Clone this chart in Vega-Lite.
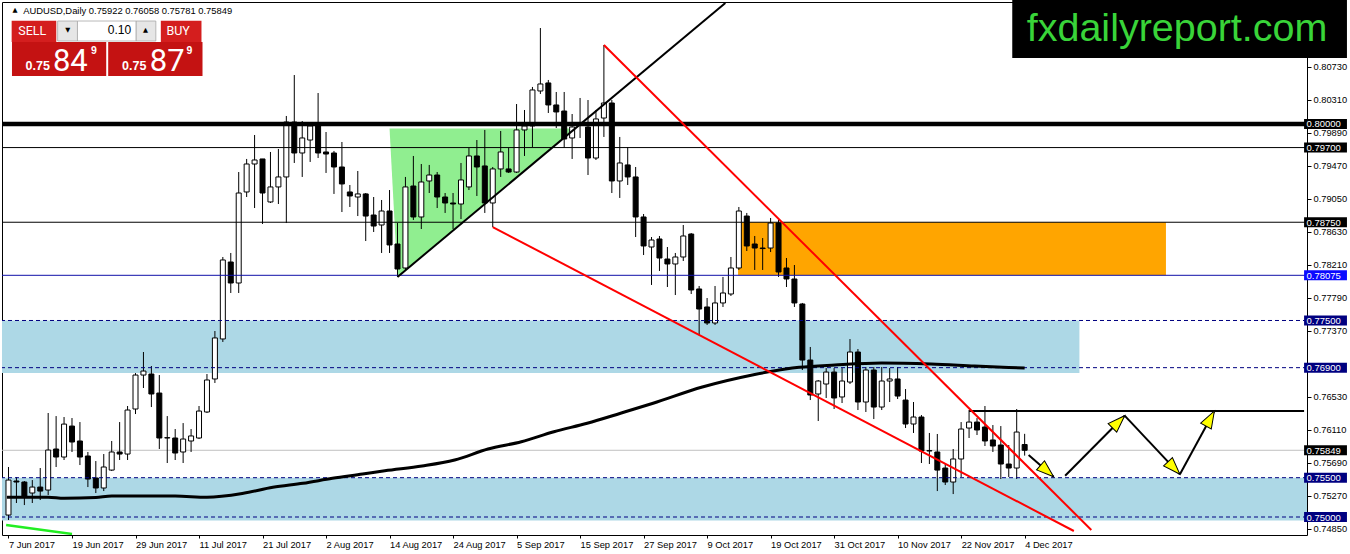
{
"$schema": "https://vega.github.io/schema/vega-lite/v6.json",
"width": 1305, "height": 533,
"autosize": {"type": "none"},
"padding": {"left": 2, "top": 2, "right": 43, "bottom": 19},
"background": "#ffffff",
"config": {"view": {"stroke": "#000000", "strokeWidth": 1}, "font": "Liberation Sans",
  "axis": {"labelOverlap": false, "labelFlush": false, "labelBound": false, "grid": false, "domain": false}},
"datasets": {
"candles": [
{"i":0,"o":0.75025,"h":0.75636,"l":0.74962,"c":0.7547},
{"i":1,"o":0.75458,"h":0.75508,"l":0.75178,"c":0.75445},
{"i":2,"o":0.75445,"h":0.75458,"l":0.75152,"c":0.75254},
{"i":3,"o":0.75305,"h":0.7547,"l":0.75178,"c":0.75381},
{"i":4,"o":0.75381,"h":0.75623,"l":0.75216,"c":0.7533},
{"i":5,"o":0.75343,"h":0.76323,"l":0.7528,"c":0.75852},
{"i":6,"o":0.75865,"h":0.76284,"l":0.75636,"c":0.75763},
{"i":7,"o":0.75763,"h":0.76272,"l":0.75725,"c":0.76182},
{"i":8,"o":0.76157,"h":0.76259,"l":0.75827,"c":0.75954},
{"i":9,"o":0.75967,"h":0.76208,"l":0.75661,"c":0.75763},
{"i":10,"o":0.75776,"h":0.75827,"l":0.75381,"c":0.75483},
{"i":11,"o":0.75496,"h":0.75712,"l":0.75305,"c":0.75369},
{"i":12,"o":0.75369,"h":0.75801,"l":0.7533,"c":0.75636},
{"i":13,"o":0.75597,"h":0.75967,"l":0.75585,"c":0.75827},
{"i":14,"o":0.75827,"h":0.76208,"l":0.75725,"c":0.75801},
{"i":15,"o":0.75801,"h":0.76412,"l":0.75725,"c":0.76361},
{"i":16,"o":0.76374,"h":0.76831,"l":0.7631,"c":0.76806},
{"i":17,"o":0.76806,"h":0.77099,"l":0.76641,"c":0.76857},
{"i":18,"o":0.76819,"h":0.76921,"l":0.76399,"c":0.76565},
{"i":19,"o":0.76577,"h":0.76806,"l":0.75865,"c":0.76005},
{"i":20,"o":0.76005,"h":0.76284,"l":0.75687,"c":0.7601},
{"i":21,"o":0.76005,"h":0.76119,"l":0.75725,"c":0.75814},
{"i":22,"o":0.75827,"h":0.76195,"l":0.75687,"c":0.75992},
{"i":23,"o":0.75967,"h":0.76119,"l":0.75827,"c":0.76031},
{"i":24,"o":0.76005,"h":0.76412,"l":0.75992,"c":0.76348},
{"i":25,"o":0.76336,"h":0.76819,"l":0.76323,"c":0.76743},
{"i":26,"o":0.76756,"h":0.77366,"l":0.76705,"c":0.77278},
{"i":27,"o":0.77265,"h":0.78308,"l":0.77227,"c":0.7827},
{"i":28,"o":0.78244,"h":0.78359,"l":0.7785,"c":0.77977},
{"i":29,"o":0.77977,"h":0.79389,"l":0.7785,"c":0.79122},
{"i":30,"o":0.79135,"h":0.79555,"l":0.79071,"c":0.79491},
{"i":31,"o":0.79491,"h":0.7986,"l":0.78931,"c":0.79542},
{"i":32,"o":0.79555,"h":0.79555,"l":0.78728,"c":0.79122},
{"i":33,"o":0.79008,"h":0.79644,"l":0.78995,"c":0.79199},
{"i":34,"o":0.79199,"h":0.79682,"l":0.78982,"c":0.79326},
{"i":35,"o":0.79326,"h":0.80102,"l":0.7874,"c":0.80025},
{"i":36,"o":0.80025,"h":0.80623,"l":0.79504,"c":0.79631},
{"i":37,"o":0.79631,"h":0.80038,"l":0.79326,"c":0.79822},
{"i":38,"o":0.79796,"h":0.80025,"l":0.79517,"c":0.79975},
{"i":39,"o":0.79975,"h":0.80394,"l":0.79567,"c":0.79631},
{"i":40,"o":0.79644,"h":0.79898,"l":0.79377,"c":0.79618},
{"i":41,"o":0.79631,"h":0.79657,"l":0.7911,"c":0.79453},
{"i":42,"o":0.79453,"h":0.79771,"l":0.7888,"c":0.79237},
{"i":43,"o":0.79135,"h":0.79224,"l":0.78944,"c":0.79084},
{"i":44,"o":0.79071,"h":0.79402,"l":0.78829,"c":0.7911},
{"i":45,"o":0.7911,"h":0.79122,"l":0.78511,"c":0.78829},
{"i":46,"o":0.78842,"h":0.79071,"l":0.78626,"c":0.78702},
{"i":47,"o":0.78715,"h":0.79033,"l":0.78359,"c":0.78893},
{"i":48,"o":0.78893,"h":0.7916,"l":0.78359,"c":0.78461},
{"i":49,"o":0.78473,"h":0.7874,"l":0.78054,"c":0.78155},
{"i":50,"o":0.78168,"h":0.79326,"l":0.78143,"c":0.79199},
{"i":51,"o":0.79211,"h":0.79593,"l":0.78779,"c":0.78817},
{"i":52,"o":0.78817,"h":0.79491,"l":0.78664,"c":0.79262},
{"i":53,"o":0.79275,"h":0.79479,"l":0.79122,"c":0.79351},
{"i":54,"o":0.79351,"h":0.79389,"l":0.78931,"c":0.79071},
{"i":55,"o":0.79071,"h":0.79122,"l":0.78868,"c":0.78995},
{"i":56,"o":0.78995,"h":0.79122,"l":0.78664,"c":0.78982},
{"i":57,"o":0.78982,"h":0.79504,"l":0.78791,"c":0.79288},
{"i":58,"o":0.79199,"h":0.79695,"l":0.7916,"c":0.79593},
{"i":59,"o":0.79593,"h":0.79796,"l":0.79084,"c":0.79453},
{"i":60,"o":0.79466,"h":0.79924,"l":0.78868,"c":0.78995},
{"i":61,"o":0.78995,"h":0.79453,"l":0.78689,"c":0.79428},
{"i":62,"o":0.79428,"h":0.79911,"l":0.79326,"c":0.79644},
{"i":63,"o":0.79428,"h":0.79695,"l":0.79377,"c":0.79389},
{"i":64,"o":0.79389,"h":0.80254,"l":0.79377,"c":0.79924},
{"i":65,"o":0.79924,"h":0.80178,"l":0.79593,"c":0.79975},
{"i":66,"o":0.79975,"h":0.80471,"l":0.79707,"c":0.80433},
{"i":67,"o":0.8042,"h":0.81221,"l":0.80382,"c":0.80509},
{"i":68,"o":0.80522,"h":0.8056,"l":0.8014,"c":0.80242},
{"i":69,"o":0.80242,"h":0.80407,"l":0.79949,"c":0.80153},
{"i":70,"o":0.80165,"h":0.80407,"l":0.79695,"c":0.79809},
{"i":71,"o":0.79822,"h":0.80127,"l":0.79555,"c":0.79962},
{"i":72,"o":0.79987,"h":0.80331,"l":0.79822,"c":0.7999},
{"i":73,"o":0.79962,"h":0.80305,"l":0.79351,"c":0.79567},
{"i":74,"o":0.79567,"h":0.80178,"l":0.79542,"c":0.80064},
{"i":75,"o":0.80076,"h":0.81005,"l":0.79835,"c":0.80267},
{"i":76,"o":0.80267,"h":0.80305,"l":0.79122,"c":0.79275},
{"i":77,"o":0.79275,"h":0.79835,"l":0.79059,"c":0.79504},
{"i":78,"o":0.79479,"h":0.79707,"l":0.79224,"c":0.79326},
{"i":79,"o":0.79326,"h":0.79453,"l":0.78562,"c":0.78817},
{"i":80,"o":0.78817,"h":0.78855,"l":0.78333,"c":0.78448},
{"i":81,"o":0.78435,"h":0.78562,"l":0.77952,"c":0.78524},
{"i":82,"o":0.78537,"h":0.78575,"l":0.7813,"c":0.78295},
{"i":83,"o":0.78282,"h":0.78435,"l":0.77926,"c":0.78219},
{"i":84,"o":0.78219,"h":0.78359,"l":0.77824,"c":0.78308},
{"i":85,"o":0.78308,"h":0.78715,"l":0.78257,"c":0.78575},
{"i":86,"o":0.786,"h":0.78613,"l":0.77837,"c":0.77888},
{"i":87,"o":0.77901,"h":0.77939,"l":0.77315,"c":0.77646},
{"i":88,"o":0.77672,"h":0.77786,"l":0.77443,"c":0.77468},
{"i":89,"o":0.77468,"h":0.77939,"l":0.77443,"c":0.77723},
{"i":90,"o":0.77723,"h":0.78054,"l":0.77672,"c":0.7785},
{"i":91,"o":0.77837,"h":0.78308,"l":0.77812,"c":0.78168},
{"i":92,"o":0.78168,"h":0.78944,"l":0.78143,"c":0.78893},
{"i":93,"o":0.78829,"h":0.78868,"l":0.78384,"c":0.78448},
{"i":94,"o":0.78473,"h":0.78575,"l":0.78143,"c":0.78422},
{"i":95,"o":0.78422,"h":0.78549,"l":0.78143,"c":0.78415},
{"i":96,"o":0.78422,"h":0.78804,"l":0.78371,"c":0.7874},
{"i":97,"o":0.7874,"h":0.78779,"l":0.78054,"c":0.78117},
{"i":98,"o":0.78168,"h":0.78295,"l":0.77926,"c":0.78028},
{"i":99,"o":0.78028,"h":0.78206,"l":0.77672,"c":0.77723},
{"i":100,"o":0.7771,"h":0.77723,"l":0.7687,"c":0.76997},
{"i":101,"o":0.76997,"h":0.77163,"l":0.76488,"c":0.76552},
{"i":102,"o":0.76565,"h":0.76743,"l":0.76221,"c":0.7673},
{"i":103,"o":0.76692,"h":0.76895,"l":0.76514,"c":0.76844},
{"i":104,"o":0.76844,"h":0.76895,"l":0.76374,"c":0.76514},
{"i":105,"o":0.76527,"h":0.76895,"l":0.7645,"c":0.7673},
{"i":106,"o":0.76717,"h":0.77264,"l":0.76692,"c":0.77099},
{"i":107,"o":0.77099,"h":0.77137,"l":0.76361,"c":0.76463},
{"i":108,"o":0.76463,"h":0.76908,"l":0.76336,"c":0.7687},
{"i":109,"o":0.7687,"h":0.76908,"l":0.76246,"c":0.76399},
{"i":110,"o":0.76399,"h":0.76908,"l":0.76361,"c":0.7673},
{"i":111,"o":0.7673,"h":0.76895,"l":0.76463,"c":0.76756},
{"i":112,"o":0.76756,"h":0.76908,"l":0.76501,"c":0.76539},
{"i":113,"o":0.76488,"h":0.76628,"l":0.76132,"c":0.76183},
{"i":114,"o":0.76183,"h":0.76463,"l":0.76069,"c":0.76272},
{"i":115,"o":0.76272,"h":0.76297,"l":0.75687,"c":0.7584},
{"i":116,"o":0.7584,"h":0.76069,"l":0.75674,"c":0.75845},
{"i":117,"o":0.75827,"h":0.76056,"l":0.7533,"c":0.75597},
{"i":118,"o":0.75623,"h":0.75687,"l":0.75407,"c":0.75445},
{"i":119,"o":0.75445,"h":0.75865,"l":0.75292,"c":0.75738},
{"i":120,"o":0.75738,"h":0.76208,"l":0.75509,"c":0.76119},
{"i":121,"o":0.76132,"h":0.76361,"l":0.76005,"c":0.76208},
{"i":122,"o":0.76208,"h":0.76259,"l":0.76043,"c":0.76107},
{"i":123,"o":0.76145,"h":0.76412,"l":0.75903,"c":0.75967},
{"i":124,"o":0.7598,"h":0.7617,"l":0.75827,"c":0.75903},
{"i":125,"o":0.75916,"h":0.76157,"l":0.75483,"c":0.75674},
{"i":126,"o":0.75674,"h":0.75916,"l":0.75509,"c":0.75623},
{"i":127,"o":0.75623,"h":0.76374,"l":0.75483,"c":0.76081},
{"i":128,"o":0.75922,"h":0.76058,"l":0.75781,"c":0.75849}
],
"ma": [
{"i":-0.2,"v":0.75251},{"i":5,"v":0.75251},{"i":7,"v":0.75238},{"i":11,"v":0.75248},{"i":13,"v":0.75267},
{"i":21,"v":0.75267},{"i":25,"v":0.75251},{"i":29.6,"v":0.75302},{"i":33.3,"v":0.75378},{"i":37.1,"v":0.75429},
{"i":40.8,"v":0.75492},{"i":44.6,"v":0.75547},{"i":47.4,"v":0.75589},{"i":52.1,"v":0.75649},{"i":56.2,"v":0.75725},
{"i":60.4,"v":0.75865},{"i":64.6,"v":0.75958},{"i":68.7,"v":0.76085},{"i":72.9,"v":0.76193},{"i":77.1,"v":0.7632},
{"i":81.2,"v":0.76447},{"i":87.4,"v":0.76654},{"i":93.7,"v":0.76807},{"i":97.9,"v":0.76883},{"i":99.6,"v":0.76904},
{"i":104.1,"v":0.76934},{"i":110,"v":0.76959},{"i":116.2,"v":0.76946},{"i":121.7,"v":0.76921},{"i":128,"v":0.76895}
],
"zones": [
{"role":"demand","i":-1,"i2":134.9,"v":0.775,"v2":0.76832},
{"role":"demand","i":-1,"i2":164,"v":0.755,"v2":0.74957},
{"role":"supply","i":91.9,"i2":145.8,"v":0.7875,"v2":0.78075}
],
"wedge": [
{"i":48.0,"v":0.79943,"v2":0.79943},
{"i":49.0,"v":0.79943,"v2":0.78054},
{"i":71.4,"v":0.79943,"v2":0.79943}
],
"levels": [
{"v":0.8,"k":"major"},{"v":0.797,"k":"minor"},{"v":0.7875,"k":"minor"},{"v":0.78075,"k":"pivot"},
{"v":0.775,"k":"zone"},{"v":0.769,"k":"zone"},{"v":0.755,"k":"zone"},{"v":0.75,"k":"zone"},{"v":0.75849,"k":"price"}
],
"segs": [
{"name":"up","kind":"black","i":49,"v":0.78054,"i2":90.3,"v2":0.81539},
{"name":"redA","kind":"red","i":75,"v":0.81005,"i2":136.4,"v2":0.74835},
{"name":"redB","kind":"red","i":61,"v":0.78689,"i2":134.2,"v2":0.74822},
{"name":"res","kind":"black","i":121,"v":0.76348,"i2":163.2,"v2":0.76348},
{"name":"green","kind":"green","i":-0.3,"v":0.74898,"i2":8,"v2":0.74784},
{"name":"a1","kind":"black","i":128.5,"v":0.75789,"i2":131.65,"v2":0.75513},
{"name":"a2","kind":"black","i":133.1,"v":0.75525,"i2":140.6,"v2":0.76289},
{"name":"a3","kind":"black","i":140.6,"v":0.76289,"i2":147.56,"v2":0.75543},
{"name":"a4","kind":"black","i":147.56,"v":0.75543,"i2":151.9,"v2":0.76349}
],
"tips": [
{"name":"a1","i":131.65,"v":0.75513},
{"name":"a2","i":140.6,"v":0.76289},
{"name":"a3","i":147.56,"v":0.75543},
{"name":"a4","i":151.9,"v":0.76349}
],
"tags": [
{"v":0.8,"t":"0.80000","role":"level"},{"v":0.797,"t":"0.79700","role":"level"},{"v":0.7875,"t":"0.78750","role":"level"},
{"v":0.78075,"t":"0.78075","role":"entry"},{"v":0.775,"t":"0.77500","role":"zone"},{"v":0.769,"t":"0.76900","role":"zone"},
{"v":0.75849,"t":"0.75849","role":"level"},{"v":0.755,"t":"0.75500","role":"zone"},{"v":0.75,"t":"0.75000","role":"zone"}
],
"panels": [
{"role":"button","i":0.4,"i2":6.02,"v":0.81314,"v2":0.81043},
{"role":"quote","i":0.44,"i2":12.31,"v":0.81043,"v2":0.80611},
{"role":"button","i":19.19,"i2":24.31,"v":0.81314,"v2":0.81043},
{"role":"quote","i":12.56,"i2":24.44,"v":0.81043,"v2":0.80611},
{"role":"spin","i":6.19,"i2":8.69,"v":0.8131,"v2":0.81056},
{"role":"field","i":8.69,"i2":16.06,"v":0.8131,"v2":0.81056},
{"role":"spin","i":16.06,"i2":18.56,"v":0.8131,"v2":0.81056},
{"role":"logo","i":126.44,"i2":168.6,"v":0.8159,"v2":0.8084}
],
"notes": [
{"role":"headmark","t":"▲","i":0.81,"v":0.81445},
{"role":"header","t":"AUDUSD,Daily  0.75922 0.76058 0.75781 0.75849","i":1.85,"v":0.81438},
{"role":"btn","t":"SELL","i":3.0,"v":0.81183},
{"role":"btn","t":"BUY","i":21.375,"v":0.81183},
{"role":"lot","t":"0.10","i":15.44,"v":0.81196},
{"role":"spin","t":"▼","i":7.47,"v":0.81196},
{"role":"spin","t":"▲","i":17.27,"v":0.81196},
{"role":"pip","t":"0.75","i":2.15,"v":0.80687},
{"role":"pip","t":"0.75","i":14.31,"v":0.80687},
{"role":"big","t":"84","i":5.6,"v":0.80674},
{"role":"big","t":"87","i":17.8,"v":0.80674},
{"role":"sup","t":"9","i":10.75,"v":0.80929},
{"role":"sup","t":"9","i":22.8,"v":0.80929},
{"role":"logo","t":"fxdailyreport.com","i":147.2,"v":0.81056}
]
},
"layer": [
{"data": {"name": "zones"},
 "transform": [{"filter": "datum.role == 'demand'"}],
 "mark": {"type": "rect", "clip": true, "color": "#add8e6"},
 "encoding": {
  "x": {"field": "i", "type": "quantitative", "scale": {"domain": [-0.1875, 162.9375], "nice": false, "zero": false},
   "axis": {"orient": "bottom", "values": [0,8,16,24,32,40,48,56,64,72,80,88,96,104,112,120,128], "tickCount": 40,
    "labelExpr": "['7 Jun 2017','19 Jun 2017','29 Jun 2017','11 Jul 2017','21 Jul 2017','2 Aug 2017','14 Aug 2017','24 Aug 2017','5 Sep 2017','15 Sep 2017','27 Sep 2017','9 Oct 2017','19 Oct 2017','31 Oct 2017','10 Nov 2017','22 Nov 2017','4 Dec 2017'][round(datum.value/8)]",
    "labelAlign": "left", "labelBaseline": "top", "labelPadding": 2, "labelDx": -1, "tickSize": 3, "labelFontSize": 9.3,
    "labelFont": "Liberation Sans", "labelColor": "#000000", "tickColor": "#000000", "labelFlush": false, "labelOverlap": false,
    "labelBound": false, "title": null, "domain": false, "grid": false}},
  "x2": {"field": "i2"},
  "y": {"field": "v", "type": "quantitative", "scale": {"domain": [0.74771, 0.81552], "nice": false, "zero": false},
   "axis": {"orient": "right", "values": [0.8073,0.8031,0.7989,0.7947,0.7905,0.7863,0.7821,0.7779,0.7737,0.7653,0.7611,0.7569,0.7527,0.7485], "tickCount": 40,
    "format": ".5f", "tickSize": 4, "labelPadding": 2, "labelFontSize": 9.3, "labelFont": "Liberation Sans", "labelBaseline": "middle",
    "labelColor": "#000000", "tickColor": "#000000", "labelOverlap": false, "labelFlush": false, "labelBound": false,
    "title": null, "domain": false, "grid": false}},
  "y2": {"field": "v2"}
 }},
{"data": {"name": "zones"},
 "transform": [{"filter": "datum.role == 'supply'"}],
 "mark": {"type": "rect", "clip": true, "color": "#ffa500"},
 "encoding": {
  "x": {"field": "i", "type": "quantitative", "scale": {"domain": [-0.1875, 162.9375], "nice": false, "zero": false}},
  "x2": {"field": "i2"},
  "y": {"field": "v", "type": "quantitative", "scale": {"domain": [0.74771, 0.81552], "nice": false, "zero": false}},
  "y2": {"field": "v2"}
 }},
{"data": {"name": "wedge"},
 "mark": {"type": "area", "color": "#90ee90", "clip": true},
 "encoding": {
  "x": {"field": "i", "type": "quantitative", "scale": {"domain": [-0.1875, 162.9375], "nice": false, "zero": false}},
  "y": {"field": "v", "type": "quantitative", "stack": null, "scale": {"domain": [0.74771, 0.81552], "nice": false, "zero": false}},
  "y2": {"field": "v2"}
 }},
{"data": {"name": "levels"},
 "transform": [{"filter": "datum.k == 'price'"}],
 "mark": {"type": "rule", "color": "#c0c0c0", "strokeWidth": 1},
 "encoding": {
  "y": {"field": "v", "type": "quantitative", "scale": {"domain": [0.74771, 0.81552], "nice": false, "zero": false}}
 }},
{"data": {"name": "candles"},
 "mark": {"type": "rule", "color": "#000000", "strokeWidth": 1},
 "encoding": {
  "x": {"field": "i", "type": "quantitative", "scale": {"domain": [-0.1875, 162.9375], "nice": false, "zero": false}},
  "y": {"field": "l", "type": "quantitative", "scale": {"domain": [0.74771, 0.81552], "nice": false, "zero": false}},
  "y2": {"field": "h"}
 }},
{"data": {"name": "candles"},
 "mark": {"type": "bar", "width": 5, "stroke": "#000000", "strokeWidth": 1},
 "encoding": {
  "x": {"field": "i", "type": "quantitative", "scale": {"domain": [-0.1875, 162.9375], "nice": false, "zero": false}},
  "y": {"field": "o", "type": "quantitative", "stack": null, "scale": {"domain": [0.74771, 0.81552], "nice": false, "zero": false}},
  "y2": {"field": "c"},
  "fill": {"condition": {"test": "datum.c >= datum.o", "value": "#ffffff"}, "value": "#000000"}
 }},
{"data": {"name": "levels"},
 "transform": [{"filter": "datum.k == 'major'"}],
 "mark": {"type": "rule", "color": "#000000", "strokeWidth": 4.5},
 "encoding": {
  "y": {"field": "v", "type": "quantitative", "scale": {"domain": [0.74771, 0.81552], "nice": false, "zero": false}}
 }},
{"data": {"name": "levels"},
 "transform": [{"filter": "datum.k == 'minor'"}],
 "mark": {"type": "rule", "color": "#000000", "strokeWidth": 1},
 "encoding": {
  "y": {"field": "v", "type": "quantitative", "scale": {"domain": [0.74771, 0.81552], "nice": false, "zero": false}}
 }},
{"data": {"name": "levels"},
 "transform": [{"filter": "datum.k == 'pivot'"}],
 "mark": {"type": "rule", "color": "#1010a8", "strokeWidth": 1},
 "encoding": {
  "y": {"field": "v", "type": "quantitative", "scale": {"domain": [0.74771, 0.81552], "nice": false, "zero": false}}
 }},
{"data": {"name": "levels"},
 "transform": [{"filter": "datum.k == 'zone'"}],
 "mark": {"type": "rule", "color": "#000080", "strokeWidth": 1, "strokeDash": [4, 3]},
 "encoding": {
  "y": {"field": "v", "type": "quantitative", "scale": {"domain": [0.74771, 0.81552], "nice": false, "zero": false}}
 }},
{"data": {"name": "ma"},
 "mark": {"type": "line", "color": "#000000", "strokeWidth": 3, "clip": true, "interpolate": "monotone"},
 "encoding": {
  "x": {"field": "i", "type": "quantitative", "scale": {"domain": [-0.1875, 162.9375], "nice": false, "zero": false}},
  "y": {"field": "v", "type": "quantitative", "scale": {"domain": [0.74771, 0.81552], "nice": false, "zero": false}}
 }},
{"data": {"name": "segs"},
 "transform": [{"filter": "datum.kind == 'black'"}],
 "mark": {"type": "rule", "strokeWidth": 2, "clip": true, "color": "#000000"},
 "encoding": {
  "x": {"field": "i", "type": "quantitative", "scale": {"domain": [-0.1875, 162.9375], "nice": false, "zero": false}},
  "x2": {"field": "i2"},
  "y": {"field": "v", "type": "quantitative", "scale": {"domain": [0.74771, 0.81552], "nice": false, "zero": false}},
  "y2": {"field": "v2"}
 }},
{"data": {"name": "segs"},
 "transform": [{"filter": "datum.kind == 'red'"}],
 "mark": {"type": "rule", "strokeWidth": 2, "clip": true, "color": "#ff0000"},
 "encoding": {
  "x": {"field": "i", "type": "quantitative", "scale": {"domain": [-0.1875, 162.9375], "nice": false, "zero": false}},
  "x2": {"field": "i2"},
  "y": {"field": "v", "type": "quantitative", "scale": {"domain": [0.74771, 0.81552], "nice": false, "zero": false}},
  "y2": {"field": "v2"}
 }},
{"data": {"name": "segs"},
 "transform": [{"filter": "datum.kind == 'green'"}],
 "mark": {"type": "rule", "strokeWidth": 2.5, "clip": true, "color": "#22ee22"},
 "encoding": {
  "x": {"field": "i", "type": "quantitative", "scale": {"domain": [-0.1875, 162.9375], "nice": false, "zero": false}},
  "x2": {"field": "i2"},
  "y": {"field": "v", "type": "quantitative", "scale": {"domain": [0.74771, 0.81552], "nice": false, "zero": false}},
  "y2": {"field": "v2"}
 }},
{"data": {"name": "tips"},
 "transform": [{"filter": "datum.name == 'a1'"}],
 "mark": {"type": "point", "shape": "M0,0L0.7,2L-0.7,2Z", "size": 300, "angle": 131, "filled": true, "fill": "#ffff00", "stroke": "#000000", "strokeWidth": 1, "opacity": 1},
 "encoding": {
  "x": {"field": "i", "type": "quantitative", "scale": {"domain": [-0.1875, 162.9375], "nice": false, "zero": false}},
  "y": {"field": "v", "type": "quantitative", "scale": {"domain": [0.74771, 0.81552], "nice": false, "zero": false}}
 }},
{"data": {"name": "tips"},
 "transform": [{"filter": "datum.name == 'a2'"}],
 "mark": {"type": "point", "shape": "M0,0L0.7,2L-0.7,2Z", "size": 300, "angle": 45, "filled": true, "fill": "#ffff00", "stroke": "#000000", "strokeWidth": 1, "opacity": 1},
 "encoding": {
  "x": {"field": "i", "type": "quantitative", "scale": {"domain": [-0.1875, 162.9375], "nice": false, "zero": false}},
  "y": {"field": "v", "type": "quantitative", "scale": {"domain": [0.74771, 0.81552], "nice": false, "zero": false}}
 }},
{"data": {"name": "tips"},
 "transform": [{"filter": "datum.name == 'a3'"}],
 "mark": {"type": "point", "shape": "M0,0L0.7,2L-0.7,2Z", "size": 300, "angle": 136.5, "filled": true, "fill": "#ffff00", "stroke": "#000000", "strokeWidth": 1, "opacity": 1},
 "encoding": {
  "x": {"field": "i", "type": "quantitative", "scale": {"domain": [-0.1875, 162.9375], "nice": false, "zero": false}},
  "y": {"field": "v", "type": "quantitative", "scale": {"domain": [0.74771, 0.81552], "nice": false, "zero": false}}
 }},
{"data": {"name": "tips"},
 "transform": [{"filter": "datum.name == 'a4'"}],
 "mark": {"type": "point", "shape": "M0,0L0.7,2L-0.7,2Z", "size": 300, "angle": 29, "filled": true, "fill": "#ffff00", "stroke": "#000000", "strokeWidth": 1, "opacity": 1},
 "encoding": {
  "x": {"field": "i", "type": "quantitative", "scale": {"domain": [-0.1875, 162.9375], "nice": false, "zero": false}},
  "y": {"field": "v", "type": "quantitative", "scale": {"domain": [0.74771, 0.81552], "nice": false, "zero": false}}
 }},
{"data": {"name": "tags"},
 "transform": [{"filter": "datum.role == 'level'"}],
 "mark": {"type": "rule", "strokeWidth": 10, "strokeCap": "butt", "clip": false, "color": "#000000"},
 "encoding": {
  "x": {"datum": 163.2, "type": "quantitative", "scale": {"domain": [-0.1875, 162.9375], "nice": false, "zero": false}},
  "x2": {"datum": 168.6},
  "y": {"field": "v", "type": "quantitative", "scale": {"domain": [0.74771, 0.81552], "nice": false, "zero": false}}
 }},
{"data": {"name": "tags"},
 "transform": [{"filter": "datum.role == 'entry'"}],
 "mark": {"type": "rule", "strokeWidth": 10, "strokeCap": "butt", "clip": false, "color": "#0a0aff"},
 "encoding": {
  "x": {"datum": 163.2, "type": "quantitative", "scale": {"domain": [-0.1875, 162.9375], "nice": false, "zero": false}},
  "x2": {"datum": 168.6},
  "y": {"field": "v", "type": "quantitative", "scale": {"domain": [0.74771, 0.81552], "nice": false, "zero": false}}
 }},
{"data": {"name": "tags"},
 "transform": [{"filter": "datum.role == 'zone'"}],
 "mark": {"type": "rule", "strokeWidth": 10, "strokeCap": "butt", "clip": false, "color": "#000080"},
 "encoding": {
  "x": {"datum": 163.2, "type": "quantitative", "scale": {"domain": [-0.1875, 162.9375], "nice": false, "zero": false}},
  "x2": {"datum": 168.6},
  "y": {"field": "v", "type": "quantitative", "scale": {"domain": [0.74771, 0.81552], "nice": false, "zero": false}}
 }},
{"data": {"name": "tags"},
 "mark": {"type": "text", "align": "left", "baseline": "middle", "color": "#ffffff", "fontSize": 9.5, "font": "Liberation Sans", "dy": 0.5, "clip": false},
 "encoding": {
  "x": {"datum": 163.5, "type": "quantitative", "scale": {"domain": [-0.1875, 162.9375], "nice": false, "zero": false}},
  "y": {"field": "v", "type": "quantitative", "scale": {"domain": [0.74771, 0.81552], "nice": false, "zero": false}},
  "text": {"field": "t"}
 }},
{"data": {"name": "panels"},
 "transform": [{"filter": "datum.role == 'button'"}],
 "mark": {"type": "rect", "clip": false, "color": "#d41e1e"},
 "encoding": {
  "x": {"field": "i", "type": "quantitative", "scale": {"domain": [-0.1875, 162.9375], "nice": false, "zero": false}},
  "x2": {"field": "i2"},
  "y": {"field": "v", "type": "quantitative", "scale": {"domain": [0.74771, 0.81552], "nice": false, "zero": false}},
  "y2": {"field": "v2"}
 }},
{"data": {"name": "panels"},
 "transform": [{"filter": "datum.role == 'quote'"}],
 "mark": {"type": "rect", "clip": false, "color": "#c41212"},
 "encoding": {
  "x": {"field": "i", "type": "quantitative", "scale": {"domain": [-0.1875, 162.9375], "nice": false, "zero": false}},
  "x2": {"field": "i2"},
  "y": {"field": "v", "type": "quantitative", "scale": {"domain": [0.74771, 0.81552], "nice": false, "zero": false}},
  "y2": {"field": "v2"}
 }},
{"data": {"name": "panels"},
 "transform": [{"filter": "datum.role == 'spin'"}],
 "mark": {"type": "rect", "clip": false, "fill": "#e6e6e6", "stroke": "#a8a8a8", "strokeWidth": 0.8},
 "encoding": {
  "x": {"field": "i", "type": "quantitative", "scale": {"domain": [-0.1875, 162.9375], "nice": false, "zero": false}},
  "x2": {"field": "i2"},
  "y": {"field": "v", "type": "quantitative", "scale": {"domain": [0.74771, 0.81552], "nice": false, "zero": false}},
  "y2": {"field": "v2"}
 }},
{"data": {"name": "panels"},
 "transform": [{"filter": "datum.role == 'field'"}],
 "mark": {"type": "rect", "clip": false, "fill": "#ffffff", "stroke": "#a8a8a8", "strokeWidth": 0.8},
 "encoding": {
  "x": {"field": "i", "type": "quantitative", "scale": {"domain": [-0.1875, 162.9375], "nice": false, "zero": false}},
  "x2": {"field": "i2"},
  "y": {"field": "v", "type": "quantitative", "scale": {"domain": [0.74771, 0.81552], "nice": false, "zero": false}},
  "y2": {"field": "v2"}
 }},
{"data": {"name": "panels"},
 "transform": [{"filter": "datum.role == 'logo'"}],
 "mark": {"type": "rect", "clip": false, "color": "#000000"},
 "encoding": {
  "x": {"field": "i", "type": "quantitative", "scale": {"domain": [-0.1875, 162.9375], "nice": false, "zero": false}},
  "x2": {"field": "i2"},
  "y": {"field": "v", "type": "quantitative", "scale": {"domain": [0.74771, 0.81552], "nice": false, "zero": false}},
  "y2": {"field": "v2"}
 }},
{"data": {"name": "notes"},
 "transform": [{"filter": "datum.role == 'header'"}],
 "mark": {"type": "text", "align": "left", "baseline": "middle", "color": "#000000", "fontSize": 9.4, "font": "Liberation Sans", "clip": false},
 "encoding": {
  "x": {"field": "i", "type": "quantitative", "scale": {"domain": [-0.1875, 162.9375], "nice": false, "zero": false}},
  "y": {"field": "v", "type": "quantitative", "scale": {"domain": [0.74771, 0.81552], "nice": false, "zero": false}},
  "text": {"field": "t"}
 }},
{"data": {"name": "notes"},
 "transform": [{"filter": "datum.role == 'headmark' || datum.role == 'spin'"}],
 "mark": {"type": "text", "align": "center", "baseline": "middle", "color": "#000000", "fontSize": 6.5, "font": "DejaVu Sans", "clip": false},
 "encoding": {
  "x": {"field": "i", "type": "quantitative", "scale": {"domain": [-0.1875, 162.9375], "nice": false, "zero": false}},
  "y": {"field": "v", "type": "quantitative", "scale": {"domain": [0.74771, 0.81552], "nice": false, "zero": false}},
  "text": {"field": "t"}
 }},
{"data": {"name": "notes"},
 "transform": [{"filter": "datum.role == 'btn'"}],
 "mark": {"type": "text", "align": "center", "baseline": "middle", "color": "#ffffff", "fontSize": 12.5, "font": "Roboto", "clip": false},
 "encoding": {
  "x": {"field": "i", "type": "quantitative", "scale": {"domain": [-0.1875, 162.9375], "nice": false, "zero": false}},
  "y": {"field": "v", "type": "quantitative", "scale": {"domain": [0.74771, 0.81552], "nice": false, "zero": false}},
  "text": {"field": "t"}
 }},
{"data": {"name": "notes"},
 "transform": [{"filter": "datum.role == 'lot'"}],
 "mark": {"type": "text", "align": "right", "baseline": "middle", "color": "#000000", "fontSize": 12, "font": "Liberation Sans", "clip": false},
 "encoding": {
  "x": {"field": "i", "type": "quantitative", "scale": {"domain": [-0.1875, 162.9375], "nice": false, "zero": false}},
  "y": {"field": "v", "type": "quantitative", "scale": {"domain": [0.74771, 0.81552], "nice": false, "zero": false}},
  "text": {"field": "t"}
 }},
{"data": {"name": "notes"},
 "transform": [{"filter": "datum.role == 'pip'"}],
 "mark": {"type": "text", "align": "left", "baseline": "alphabetic", "color": "#ffffff", "fontSize": 12.5, "fontWeight": "bold", "font": "Liberation Sans", "clip": false},
 "encoding": {
  "x": {"field": "i", "type": "quantitative", "scale": {"domain": [-0.1875, 162.9375], "nice": false, "zero": false}},
  "y": {"field": "v", "type": "quantitative", "scale": {"domain": [0.74771, 0.81552], "nice": false, "zero": false}},
  "text": {"field": "t"}
 }},
{"data": {"name": "notes"},
 "transform": [{"filter": "datum.role == 'big'"}],
 "mark": {"type": "text", "align": "left", "baseline": "alphabetic", "color": "#ffffff", "fontSize": 31, "font": "Roboto", "clip": false},
 "encoding": {
  "x": {"field": "i", "type": "quantitative", "scale": {"domain": [-0.1875, 162.9375], "nice": false, "zero": false}},
  "y": {"field": "v", "type": "quantitative", "scale": {"domain": [0.74771, 0.81552], "nice": false, "zero": false}},
  "text": {"field": "t"}
 }},
{"data": {"name": "notes"},
 "transform": [{"filter": "datum.role == 'sup'"}],
 "mark": {"type": "text", "align": "center", "baseline": "middle", "color": "#ffffff", "fontSize": 10.5, "fontWeight": "bold", "font": "Liberation Sans", "clip": false},
 "encoding": {
  "x": {"field": "i", "type": "quantitative", "scale": {"domain": [-0.1875, 162.9375], "nice": false, "zero": false}},
  "y": {"field": "v", "type": "quantitative", "scale": {"domain": [0.74771, 0.81552], "nice": false, "zero": false}},
  "text": {"field": "t"}
 }},
{"data": {"name": "notes"},
 "transform": [{"filter": "datum.role == 'logo'"}],
 "mark": {"type": "text", "align": "center", "baseline": "alphabetic", "color": "#39d439", "fontSize": 39.5, "font": "Liberation Sans", "clip": false},
 "encoding": {
  "x": {"field": "i", "type": "quantitative", "scale": {"domain": [-0.1875, 162.9375], "nice": false, "zero": false}},
  "y": {"field": "v", "type": "quantitative", "scale": {"domain": [0.74771, 0.81552], "nice": false, "zero": false}},
  "text": {"field": "t"}
 }}
]
}
